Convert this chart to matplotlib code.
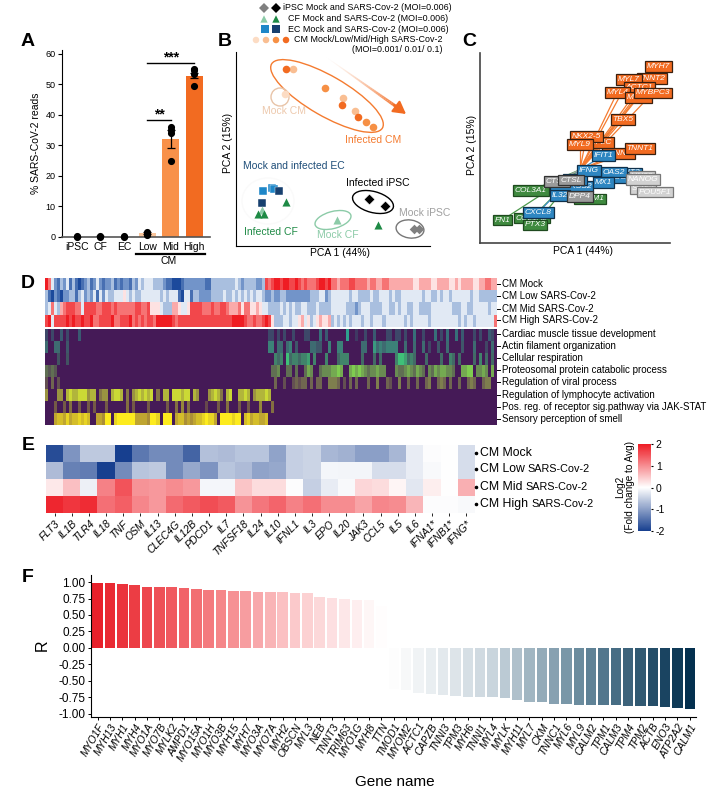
import matplotlib
matplotlib.use("Agg")
import matplotlib.pyplot as plt
import numpy as np
from matplotlib.colors import LinearSegmentedColormap
from matplotlib.patches import Ellipse

plt.rcParams['font.family'] = ['Liberation Sans', 'DejaVu Sans']
plt.rcParams['axes.unicode_minus'] = False

W, H = 716, 796

# --- panel A
a_groups = ["iPSC", "CF", "EC", "Low", "Mid", "High"]
a_means = [0.15, 0.2, 0.15, 1.2, 32, 52.8]
a_errs = [0, 0, 0, 0.3, 3.0, 0.9]
a_colors = ["#F9F9F9", "#F9F9F9", "#F9F9F9", "#F9C49A", "#F8914A", "#F26B21"]
a_points = [[0.1, 0.2], [0.1, 0.3], [0.1, 0.2], [0.5, 1.0, 1.5], [25, 34, 35, 36], [49.5, 53.5, 54.5, 55]]

# --- panel B (PCA scores, plot units)
cm_mock = [(49, 152)]
cm_low = [(57.3, 176.7), (106.7, 148), (119.3, 135)]
cm_mid = [(89, 157.7), (129.7, 124), (137, 119)]
cm_high = [(49.7, 177.3), (106, 140.7), (122, 129.3)]
ec_mock = [(27.3, 55), (36.3, 58), (38.3, 57)]
ec_inf = [(43, 55), (26, 43)]
cf_mock = [(25.7, 36), (101.3, 25.7)]
cf_inf = [(49.7, 43.7), (21.7, 32), (28, 32), (141.7, 20.7)]
ipsc_inf = [(133, 46.7), (149, 39.7)]
ipsc_mock = [(178, 17), (183, 17)]

# --- panel C (gene loadings)
c_hub = (100, 73.3)
c_green = [("COL3A1", 50.7, 52.3), ("FN1", 22.3, 23), ("COL1A2", 51.7, 25), ("PTX3", 55, 18), ("VCAM1", 110, 44)]
c_orange = [("MYH7", 178.3, 176.3), ("TNNT2", 172, 164.7), ("MYL7", 149, 163.7), ("ACTC1", 159.3, 155.7),
            ("MYL4", 137.3, 150.7), ("MYH6", 158.3, 145.7), ("MYBPC3", 172.7, 150), ("TBX5", 143, 123.7),
            ("CTNND", 138.3, 89.7), ("MEF2C", 118.3, 100.7), ("NKX2-5", 106.3, 106.3), ("MYL9", 100, 98.7),
            ("TNNT1", 160, 94.7)]
c_blue = [("TMPRSS2", 91.7, 56.7), ("IFIH1", 95, 63.3), ("IFIT3", 150, 70), ("ISG15", 145, 65.7),
          ("OAS2", 133.7, 71), ("MX1", 123.7, 60.3), ("IFIT1", 123.7, 87.7), ("IFNG", 108.7, 72.3),
          ("IL32", 80, 47.7), ("CXCL8", 58.3, 30.7)]
c_gray = [("CTSB", 76.7, 61.7), ("CTSL", 91, 63), ("DPP4", 100, 46.3)]
c_light = [("LIN28", 161.7, 66.7), ("SOX2", 163.3, 54), ("NANOG", 162.7, 63.3), ("POU5F1", 175, 51)]

# --- panel D, one digit per gene column (0 blue .. 9 red / 0 none .. 9 strong)
d_top_labels = ["CM Mock", "CM Low SARS-Cov-2", "CM Mid SARS-Cov-2", "CM High SARS-Cov-2"]
d_top = [
    "9742132413 1012312421 2231212213 2434443332 1100012222 2221133333 3334323333 2238789989 9889878777 8998977677 7887777677 6677666666 6655666655 6666556566 6655667766",
    "3102102233 1342324142 4334445434 3344444434 3444104413 3222233334 3343434343 4432232233 2222222233 3442344444 4344333343 3444343344 4444434433 4344344444 4344333333",
    "3474367888 7748888778 8878777777 8877855543 3366544588 8877787788 7666757755 6544333343 4343344333 4333344444 3332344433 3344334344 3344333344 4444433344 3344444344",
    "8948888989 8898897788 8897788897 8787887999 9987888888 8888888888 8899998778 7789853334 4344564534 5655634343 4344434434 4434444443 4344444344 4444444343 4434444447",
]
d_low_labels = ["Cardiac muscle tissue development", "Actin filament organization", "Cellular respiration",
                "Proteosomal protein catabolic process", "Regulation of viral process",
                "Regulation of lymphocyte activation", "Pos. reg. of receptor sig.pathway via JAK-STAT",
                "Sensory perception of smell"]
d_low_colors = ["#2FA08E", "#3A9A80", "#3FC078", "#7FCC50", "#A0B84A", "#CBD935", "#A8A035", "#FDEB1E"]
Z = "0000000000"
d_low = [
    f"5050060500 0600000000 {Z} {Z} {Z} {Z} {Z} 0000550505 0050005500 0706000000 9004005006 0005505505 0070050007 0507007060 0050500650",
    f"7007700600 {Z} {Z} {Z} {Z} {Z} {Z} 0000880770 7806000077 6600800880 0000077009 7878888007 0070070500 6007000060 0070005070",
    f"0000500500 {Z} {Z} {Z} {Z} {Z} {Z} 0000007670 9677677807 0007000677 7000060006 0600007998 6760006000 0600760600 0060706060",
    f"6565000000 {Z} {Z} {Z} {Z} {Z} {Z} 0000066700 6606006870 0677788980 0898987677 8770007667 8768760768 7887760088 9907787080",
    f"5060500000 {Z} {Z} {Z} {Z} {Z} {Z} 0000006005 0056566060 6600777605 0606000600 7006500700 6006006700 6760600600 6760067700",
    f"7000770898 8999788067 7089980607 8989890608 8099989908 7000789860 8900889807 8889800000 {Z} {Z} {Z} {Z} {Z} {Z} {Z}",
    f"0006006070 0600606000 6000000706 0000600000 6007080700 0005000600 7000600600 0800070000 {Z} {Z} {Z} {Z} {Z} {Z} {Z}",
    f"0006776867 7878700665 9908999999 6666599809 9906775656 7789886099 9989907867 7667000000 {Z} {Z} {Z} {Z} {Z} {Z} {Z}",
]

# --- panel E
e_genes = ["FLT3", "IL1B", "TLR4", "IL18", "TNF", "OSM", "IL13", "CLEC4G", "IL12B", "PDCD1", "IL7", "TNFSF18",
           "IL24", "IL10", "IFNL1", "IL3", "EPO", "IL20", "JAK3", "CCL5", "IL5", "IL6", "IFNA1*", "IFNB1*", "IFNG*"]
e_mock = [-1.85, -1.1, -0.55, -0.55, -2.0, -1.4, -1.2, -1.2, -1.6, -0.65, -0.7, -0.6, -0.6, -0.95, -0.5, -0.45,
          -0.75, -0.8, -1.0, -1.0, -0.75, -0.2, -0.02, 0, -0.35]
e_low = [-0.7, -1.3, -1.35, -2.0, -1.2, -0.6, -0.55, -1.2, -0.9, -1.1, -0.6, -0.7, -0.95, -0.9, -0.5, -0.45,
         -0.08, -0.1, -0.1, -0.35, -0.35, -0.2, -0.05, 0, -0.35]
e_mid = [0.2, 0.55, -0.15, 1.1, 1.5, 0.95, 0.9, 1.0, 0.9, -0.08, -0.08, 0.5, 0.3, 0.3, -0.03, -0.5,
         -0.2, -0.05, 0.35, 0.3, 0.08, -0.25, 0.15, 0, 0.7]
e_high = [1.9, 1.75, 1.85, 1.25, 1.4, 1.05, 0.9, 1.3, 1.45, 1.55, 1.45, 0.95, 1.2, 1.35, 1.1, 1.25,
          1.0, 1.0, 0.8, 1.05, 1.0, 0.65, -0.02, -0.02, -0.05]

# --- panel F
f_genes = ["MYO1F", "MYH13", "MYH1", "MYH4", "MYO1A", "MYO7B", "MYLK2", "AMPD1", "MYO15A", "MYO1H", "MYO3B", "MYH15",
           "MYH7", "MYO3A", "MYO7A", "MYH2", "OBSCN", "MYL3", "NEB", "TNNT3", "TRIM63", "MYO1G", "MYH8", "TTN",
           "TMOD1", "MYOM2", "ACTC1", "CAPZB", "TNNI3", "TPM3", "MYH6", "TNNI1", "MYL4", "MYLK", "MYH11", "MYL7",
           "CKM", "TNNC1", "MYL6", "MYL9", "CALM2", "TPM1", "CALM3", "TPM4", "TPM2", "ACTB", "ENO3", "ATP2A2", "CALM1"]
f_r = [0.99, 0.98, 0.965, 0.95, 0.93, 0.925, 0.925, 0.915, 0.90, 0.885, 0.88, 0.87, 0.86, 0.855, 0.85, 0.845,
       0.835, 0.83, 0.775, 0.76, 0.75, 0.73, 0.72, 0.63,
       -0.63, -0.64, -0.68, -0.70, -0.72, -0.735, -0.74, -0.745, -0.75, -0.76, -0.79, -0.815, -0.82, -0.85,
       -0.86, -0.865, -0.865, -0.87, -0.87, -0.88, -0.885, -0.885, -0.90, -0.91, -0.935]


def add_ax(x0, y0, x1, y1):
    # pixel box, y measured from the top of the picture
    return fig.add_axes([x0 / W, 1 - y1 / H, (x1 - x0) / W, (y1 - y0) / H])


def strip(ax, keep=("left", "bottom")):
    for side in ("left", "right", "top", "bottom"):
        ax.spines[side].set_visible(side in keep)


def digits(row):
    return [int(c) for c in row.replace(" ", "")]


fig = plt.figure(figsize=(W / 100, H / 100), dpi=100)

# overlay in pixel coordinates for the loose text
ov = fig.add_axes([0, 0, 1, 1], zorder=10)
ov.set_xlim(0, W)
ov.set_ylim(H, 0)
ov.axis("off")
ov.patch.set_alpha(0)


def label(x, y, s, size=7.5, **kw):
    kw.setdefault("ha", "center")
    kw.setdefault("va", "center")
    return ov.text(x, y, s, fontsize=size, **kw)


for s, x, y in [("A", 28, 41), ("B", 225, 41), ("C", 469, 41), ("D", 28, 283), ("E", 28, 446), ("F", 28, 577)]:
    label(x, y, s, size=14, fontweight="bold")

# A
ax = add_ax(62, 50, 210, 237)
ax.set_xlim(-0.64, 5.68)
ax.set_ylim(0, 61.2)
x = np.arange(len(a_groups))
ax.bar(x, a_means, width=0.72, color=a_colors)
ax.errorbar(x, a_means, yerr=a_errs, fmt="none", ecolor="black", elinewidth=0.9, capsize=3, capthick=0.9)
for i, pts in enumerate(a_points):
    ax.scatter([i] * len(pts), pts, s=17, color="black", zorder=3, clip_on=False)
ax.plot([3, 5], [57, 57], color="black", lw=1)
ax.plot([3, 4], [38.3, 38.3], color="black", lw=1)
ax.text(4.0, 56.4, "***", ha="center", va="bottom", fontsize=10, fontweight="bold")
ax.text(3.5, 37.7, "**", ha="center", va="bottom", fontsize=10, fontweight="bold")
ax.set_xticks(x, a_groups, fontsize=7.5)
ax.set_yticks(range(0, 61, 10))
ax.tick_params(axis="y", labelsize=6.5, length=3, pad=1.5, width=0.8)
ax.tick_params(axis="x", length=0, pad=3.5)
ax.set_ylabel("% SARS-CoV-2 reads", fontsize=7.5, labelpad=3)
ax.spines["bottom"].set_color("#555555")
ax.spines["bottom"].set_linewidth(1.2)
strip(ax)
ov.plot([136, 205], [254, 254], color="black", lw=1.6)
label(169, 261.5, "CM", size=7.5)

# B
ax = add_ax(236, 52, 430, 246)
ax.set_xlim(0, 194)
ax.set_ylim(0, 194)
ax.set_xticks([])
ax.set_yticks([])
strip(ax)
for pts, c in [(cm_mock, "#FCDCC4"), (cm_low, "#F9BE92"), (cm_mid, "#F69045"), (cm_high, "#F26B21")]:
    ax.scatter(*zip(*pts), s=30, color=c, linewidths=0, zorder=3)
for pts, c in [(ec_mock, "#1F87C8"), (ec_inf, "#17406F")]:
    ax.scatter(*zip(*pts), s=30, marker="s", color=c, linewidths=0.3, edgecolors="white", zorder=3)
for pts, c in [(cf_mock, "#8CCBA8"), (cf_inf, "#1E8A45")]:
    ax.scatter(*zip(*pts), s=34, marker="^", color=c, linewidths=0, zorder=3)
ax.scatter(*zip(*ipsc_inf), s=30, marker="D", color="black", linewidths=0.4, edgecolors="white", zorder=3)
ax.scatter(*zip(*ipsc_mock), s=24, marker="D", color="#808080", linewidths=0, zorder=3)
for cx, cy, w, h, ang, c in [(91, 150, 128, 40, -30, "#F47B30"), (44, 149, 18, 18, 0, "#E8C4A8"),
                             (137, 44, 42, 21, -15, "black"), (97, 26, 37, 17, 15, "#8CCBA8"),
                             (174, 17, 28, 18, -8, "#777777"), (32, 45, 52, 46, 0, "#FAFAFA")]:
    ax.add_patch(Ellipse((cx, cy), w, h, angle=ang, fill=False, edgecolor=c, lw=1))
fade = np.linspace(0, 1, 40)
for f0, f1 in zip(fade[:-1], fade[1:]):
    ax.plot([90 + 75 * f0, 90 + 75 * f1], [189 - 53 * f0, 189 - 53 * f1], color="#F26B21", alpha=f1 ** 1.5,
            lw=0.4 + 2 * f1, solid_capstyle="butt")
ax.annotate("", xy=(170, 132), xytext=(158, 141),
            arrowprops=dict(arrowstyle="-|>,head_width=0.42,head_length=0.75", color="#F26B21", lw=1.5, shrinkA=0, shrinkB=0))
label(340, 253, "PCA 1 (44%)", size=7.5)
label(228, 143, "PCA 2 (15%)", size=7.5, rotation=90)
label(284, 110.5, "Mock CM", color="#EDC9AD")
label(373, 140, "Infected CM", color="#F47B30")
label(294, 166, "Mock and infected EC", color="#1F4E79")
label(378, 183, "Infected iPSC")
label(425, 213, "Mock iPSC", color="#A0A0A0")
label(271, 232, "Infected CF", color="#1E8A45")
label(338, 235, "Mock CF", color="#8CCBA8")
# B legend
ov.scatter([264, 276], [8, 8], s=26, marker="D", color=["#808080", "black"], linewidths=0)
ov.scatter([264, 276], [19, 19], s=28, marker="^", color=["#8CCBA8", "#1E8A45"], linewidths=0)
ov.scatter([265, 276], [29, 29], s=26, marker="s", color=["#1F87C8", "#17406F"], linewidths=0)
ov.scatter([256, 266, 276, 286], [40, 40, 40, 40], s=22, color=["#FCDCC4", "#F9BE92", "#F69045", "#F26B21"], linewidths=0)
label(283, 8, "iPSC Mock and SARS-Cov-2 (MOI=0.006)", size=6.4, ha="left")
label(288, 18.5, "CF Mock and SARS-Cov-2 (MOI=0.006)", size=6.4, ha="left")
label(288, 29, "EC Mock and SARS-Cov-2 (MOI=0.006)", size=6.4, ha="left")
label(294, 40, "CM Mock/Low/Mid/High SARS-Cov-2", size=6.4, ha="left")
label(352, 50, "(MOI=0.001/ 0.01/ 0.1)", size=6.4, ha="left")

# C
ax = add_ax(480, 53, 670, 243)
ax.set_xlim(0, 190)
ax.set_ylim(0, 190)
ax.set_xticks([])
ax.set_yticks([])
strip(ax)
ax.spines["left"].set_color("#444444")
ax.spines["left"].set_linewidth(1.2)
ax.spines["bottom"].set_color("#444444")
ax.spines["bottom"].set_linewidth(1.2)
c_sets = [(c_green, "#3F8A3F", "#1F4A1F", "white", "#4E9A4E"),
          (c_orange, "#F26B21", "#3A2010", "white", "#F47B30"),
          (c_blue, "#2E86C1", "#10304A", "white", "#3C8FC8"),
          (c_gray, "#9B9B9B", "#333333", "white", "#AAAAAA"),
          (c_light, "#D2D2D2", "#777777", "white", "#D2D2D2")]
z = 2
for genes, face, edge, txt, line in c_sets:
    for name, gx, gy in genes:
        ax.plot([c_hub[0], gx], [c_hub[1], gy], color=line, lw=0.9, zorder=1)
for genes, face, edge, txt, line in c_sets:
    for name, gx, gy in genes:
        z += 1
        ax.text(gx, gy, name, fontsize=6, style="italic", color=txt, ha="center", va="center", zorder=z,
                bbox=dict(boxstyle="square,pad=0.22", facecolor=face, edgecolor=edge, linewidth=0.9))
label(583, 251, "PCA 1 (44%)", size=7.5)
label(472, 145, "PCA 2 (15%)", size=7.5, rotation=90)

# D
bwr = LinearSegmentedColormap.from_list("bwr2", ["#1C4A9C", "#7F9FD0", "#FFFFFF", "#F88080", "#EF1C23"])
ax = add_ax(45, 278, 496, 327)
ax.imshow(np.array([digits(r) for r in d_top]), aspect="auto", cmap=bwr, vmin=0, vmax=9, interpolation="nearest")
ax.axis("off")
ax = add_ax(45, 329, 496, 425)
rows = np.array([digits(r) for r in d_low]) / 9
rgba = np.zeros(rows.shape + (4,))
for i, col in enumerate(d_low_colors):
    cm = LinearSegmentedColormap.from_list("row", ["#451A57", col])
    # thin stripes read dimmer in the reference, sensory row stays full strength
    rgba[i] = cm(rows[i] ** (1.0 if i == 7 else 1.8))
ax.imshow(rgba, aspect="auto", interpolation="nearest")
ax.axis("off")
for y, s in zip([284, 296, 308.5, 320], d_top_labels):
    ov.plot([497, 499.5], [y, y], color="black", lw=0.7)
    label(502, y, s, size=7, ha="left")
for y, s in zip([334, 346, 358, 370, 382, 394.5, 407, 419], d_low_labels):
    ov.plot([497, 499.5], [y, y], color="black", lw=0.7)
    label(502, y, s, size=7, ha="left")

# E
rwb = LinearSegmentedColormap.from_list("rwb", ["#173F8F", "#FFFFFF", "#EE1C25"])
ax = add_ax(46, 445, 475, 513)
mesh = ax.imshow(np.array([e_mock, e_low, e_mid, e_high]), aspect="auto", cmap=rwb, vmin=-2, vmax=2,
                 interpolation="nearest")
ax.set_xticks(range(len(e_genes)), e_genes, rotation=45, ha="right", rotation_mode="anchor", style="italic", fontsize=7.5)
ax.set_yticks([])
ax.tick_params(axis="x", length=2, width=0.6, pad=2)
for side in ax.spines.values():
    side.set_visible(False)
renderer = fig.canvas.get_renderer()
for y, a, b in [(452.5, "CM Mock", ""), (469, "CM Low", "SARS-Cov-2"), (487, "CM Mid", "SARS-Cov-2"), (504, "CM High", "SARS-Cov-2")]:
    ov.scatter([475.5], [y], s=2.5, color="black")
    t = label(480, y, a, size=8.8, ha="left")
    if b:
        end = t.get_window_extent(renderer).x1
        label(end + 3, y + 0.4, b, size=7.8, ha="left")
cax = add_ax(638, 444, 651, 531)
cb = fig.colorbar(mesh, cax=cax)
cb.set_ticks([2, 1, 0, -1, -2])
cb.ax.tick_params(labelsize=7.5, length=1.5, width=0.8, pad=2)
cb.outline.set_visible(False)
label(625, 487, "Log2\n(Fold change to Avg)", size=7.2, rotation=90, linespacing=0.95)

# F
ax = add_ax(91, 575, 696, 717)
ax.set_xlim(-0.55, len(f_genes) - 1 + 0.5)
ax.set_ylim(-1.05, 1.107)
reds = LinearSegmentedColormap.from_list("reds", ["#E8202A", "#F26A6E", "#FBC4C6", "#FFFDFD"])
blues = LinearSegmentedColormap.from_list("blues", ["#FDFDFD", "#C9D5DD", "#5F8296", "#04304F"])
npos = sum(v > 0 for v in f_r)
nneg = len(f_r) - npos
f_colors = [reds(i / (npos - 1)) for i in range(npos)] + [blues(i / (nneg - 1)) for i in range(nneg)]
ax.bar(range(len(f_r)), f_r, width=0.86, color=f_colors)
ax.set_xticks(range(len(f_genes)), f_genes, rotation=60, ha="right", rotation_mode="anchor", style="italic", fontsize=7.5)
ax.set_yticks([1, 0.75, 0.5, 0.25, 0, -0.25, -0.5, -0.75, -1], ["1.00", "0.75", "0.50", "0.25", "0.00", "-0.25", "-0.50", "-0.75", "-1.00"])
ax.tick_params(axis="y", labelsize=8.5, length=2.5, width=0.7, pad=1.5)
ax.tick_params(axis="x", length=2, width=0.7, pad=1.5)
strip(ax)
label(42, 645, "R", size=11.5, rotation=90)
label(395, 782, "Gene name", size=11)

fig.savefig("out.png", dpi=100)
